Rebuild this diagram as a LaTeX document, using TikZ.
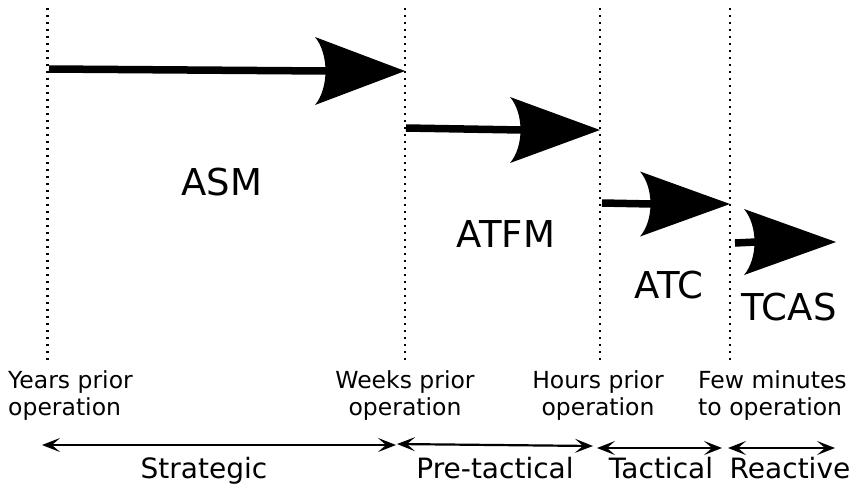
\documentclass[tikz,border=0pt]{standalone}
\usepackage{fontspec}
\setmainfont{DejaVu Sans}
\usetikzlibrary{arrows.meta,calc}

% fat arrow: shaft from #1 to the head, head with tip at #2, half height #3, length #4
\newcommand\fatarrow[4]{%
  \draw[line width=7.5pt] (#1) -- ($(#2)+(-#4+12,0)$);
  \fill (#2) -- ++(-#4,-#3)
    .. controls +(14,#3/2) and +(14,-#3/2) .. ++(0,2*#3) -- cycle;}

\begin{document}
\begin{tikzpicture}[x=1pt,y=-1pt,
  sep/.style={line width=2.6pt,dash pattern=on 2.4pt off 4.6pt},
  tip/.tip={Stealth[length=18pt,width=14pt,inset=8pt]},
  span/.style={line width=2.2pt,tip-tip},
  phase/.style={font=\fontsize{37}{40}\selectfont,inner sep=0pt,anchor=base},
  when/.style={font=\fontsize{23.5}{27}\selectfont,inner sep=0pt},
  stage/.style={font=\fontsize{28}{32}\selectfont,inner sep=0pt,anchor=base}]
\useasboundingbox (0,0) rectangle (856,488);

% time markers
\foreach \n/\x in {d1/47.5,d2/405,d3/600,d4/730}{
  \coordinate (\n top) at (\x,8);
  \coordinate (\n bot) at (\x,362);
  \draw[sep] (\n top) -- (\n bot);
}

% phase arrows
\coordinate (a1s) at (49,69);   \coordinate (a1t) at (405,71);
\coordinate (a2s) at (406,128); \coordinate (a2t) at (600,130);
\coordinate (a3s) at (602,203); \coordinate (a3t) at (730,204);
\coordinate (a4s) at (735,243); \coordinate (a4t) at (836,242);
\fatarrow{a1s}{a1t}{34}{90}
\fatarrow{a2s}{a2t}{33}{90}
\fatarrow{a3s}{a3t}{32.5}{90}
\fatarrow{a4s}{a4t}{33}{92}

% phase names
\node[phase] (asm)  at (222,195) {ASM};
\node[phase] (atfm) at (506,247) {ATFM};
\node[phase] (atc)  at (669,298) {ATC};
\node[phase] (tcas) at (789,320) {TCAS};

% time horizons (base anchor sits on the last line)
\node[when,anchor=base west,align=left]   (t1) at (8,415)   {Years prior\\operation};
\node[when,anchor=base,align=center]      (t2) at (405,415) {Weeks prior\\operation};
\node[when,anchor=base,align=center]      (t3) at (598,415) {Hours prior\\operation};
\node[when,anchor=base west,align=left]   (t4) at (698,415) {Few minutes\\to operation};

% planning stages
\coordinate (s1a) at (42,445);  \coordinate (s1b) at (396,445);
\coordinate (s2a) at (397,444); \coordinate (s2b) at (593,446);
\coordinate (s3a) at (597,448); \coordinate (s3b) at (722,448);
\coordinate (s4a) at (728,448); \coordinate (s4b) at (835,448);
\draw[span] (s1a) -- (s1b);
\draw[span] (s2a) -- (s2b);
\draw[span] (s3a) -- (s3b);
\draw[span] (s4a) -- (s4b);
\node[stage] (strat) at (204,478) {Strategic};
\node[stage] (pret)  at (495,478) {Pre-tactical};
\node[stage] (tact)  at (661,478) {Tactical};
\node[stage] (react) at (790,478) {Reactive};
\end{tikzpicture}
\end{document}
